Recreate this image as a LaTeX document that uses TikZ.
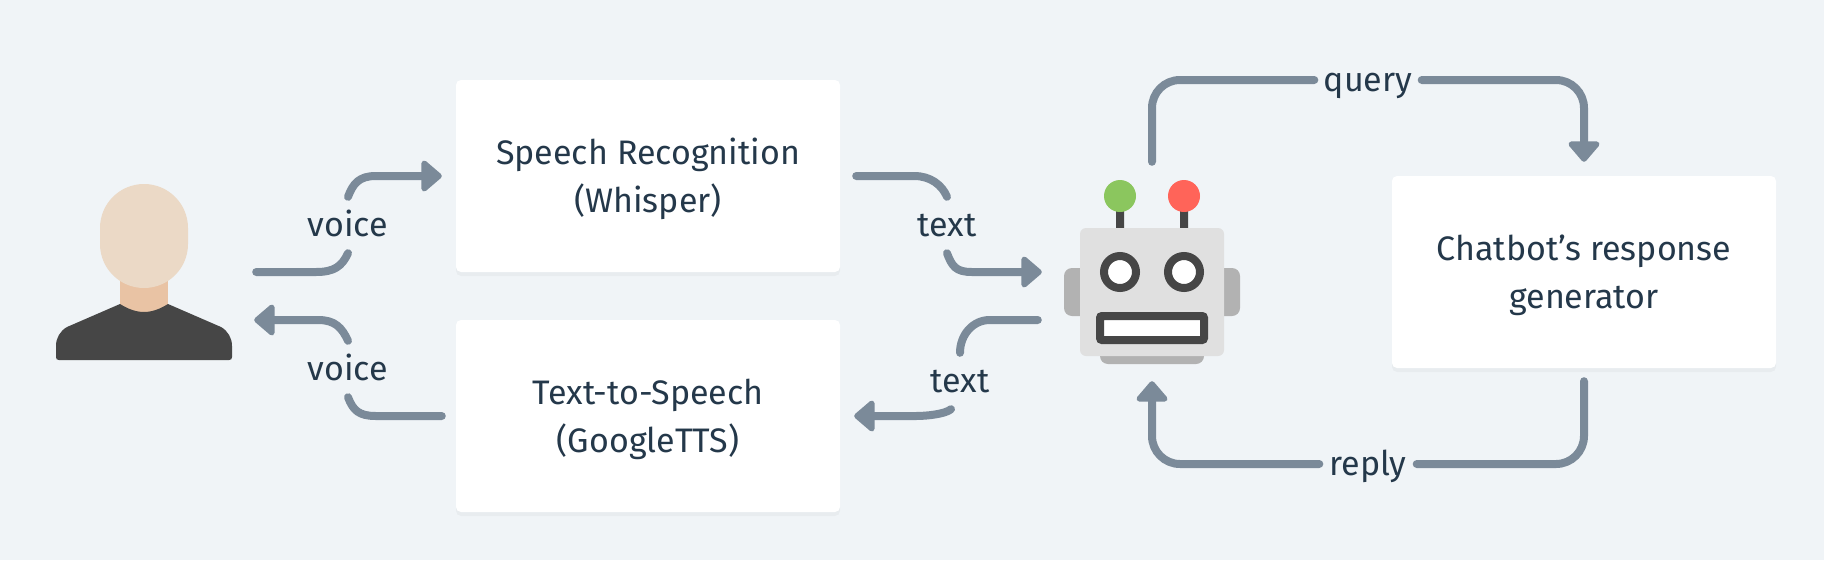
\documentclass[tikz,border=0pt]{standalone}
\usepackage{fontspec}
\usepackage{xcolor}
\setmainfont{Fira Sans}
\definecolor{pagebg}{RGB}{240, 244, 247}
\definecolor{flowgrey}{RGB}{123, 138, 153}
\definecolor{inkblue}{RGB}{36, 56, 74}
\definecolor{darkgrey}{RGB}{70, 70, 70}
\definecolor{midgrey}{RGB}{178, 178, 178}
\definecolor{facegrey}{RGB}{224, 224, 224}
\definecolor{skinlight}{RGB}{235, 217, 198}
\definecolor{skindark}{RGB}{233, 195, 164}
\definecolor{ledgreen}{RGB}{139, 198, 94}
\definecolor{ledred}{RGB}{255, 100, 89}
\usetikzlibrary{arrows.meta, shadows}
\newcommand{\cardstrut}{\rule[-10pt]{0pt}{44pt}}

\begin{document}
\begin{tikzpicture}[
        x=1pt, y=-1pt,
        card/.style={rectangle, fill=white, minimum width=384pt, minimum height=192pt,
                    inner sep=0pt, align=center, rounded corners=5pt, text=inkblue,
                    font=\fontsize{34}{48}\selectfont,
                    general shadow={fill=black, opacity=0.03, shadow yshift=-4pt}},
        icon/.style={rectangle, minimum width=176pt, minimum height=176pt, inner sep=0pt},
        tag/.style={inner sep=0pt, text=inkblue, text height=39pt, text depth=17pt,
                    font=\fontsize{34}{38}\selectfont},
        flow/.style={line width=8pt, flowgrey, line cap=round, line join=round},
        tip/.style={flow, -{Triangle[length=22pt, width=36pt, round]}}
    ]
        \fill[pagebg] (0,0) rectangle (1824,560);
        \useasboundingbox (0,0) rectangle (1824,560);

        \node[card] (speech) at (648,176) {\cardstrut Speech Recognition\\(Whisper)\cardstrut};
        \node[card] (tts) at (648,416) {\cardstrut Text-to-Speech\\(GoogleTTS)\cardstrut};
        \node[card] (generator) at (1584,272) {\cardstrut Chatbot’s response\\generator\cardstrut};
        \node[icon] (user) at (144,272) {};
        \node[icon] (robot) at (1152,272) {};

        % person
        \fill[skindark] (120,270) rectangle (168,314);
        \fill[skinlight, rounded corners=44pt] (100,184) rectangle (188,288);
        \fill[darkgrey] (120,304) .. controls (128,309) and (136,312) .. (144,312)
            .. controls (152,312) and (160,309) .. (168,304) -- (221,327)
            .. controls (228,331) and (232,338) .. (232,346) -- (232,357)
            .. controls (232,359) and (231,360) .. (229,360) -- (59,360)
            .. controls (57,360) and (56,359) .. (56,357) -- (56,346)
            .. controls (56,338) and (60,331) .. (67,327) -- cycle;

        % robot
        \fill[darkgrey] (1116,205) rectangle (1124,230) (1180,205) rectangle (1188,230);
        \fill[ledgreen] (1120,196) circle (16);
        \fill[ledred] (1184,196) circle (16);
        \fill[midgrey, rounded corners=8pt] (1064,268) rectangle (1240,316);
        \fill[midgrey, rounded corners=8pt] (1100,340) rectangle (1204,364);
        \fill[facegrey, rounded corners=6pt] (1080,228) rectangle (1224,356);
        \foreach \eyex in {1120,1184} {
            \draw[darkgrey, line width=8pt, fill=white] (\eyex,272) circle (16);
        }
        \draw[darkgrey, line width=8pt, fill=white, rounded corners=2pt] (1100,316) rectangle (1204,340);

        % labels
        \node[tag] (voiceup) at (348,225) {voice};
        \node[tag] (voicedown) at (348,369) {voice};
        \node[tag] (textup) at (947,225) {text};
        \node[tag] (textdown) at (960,381) {text};
        \node[tag, minimum width=107pt] (query) at (1368,80) {query};
        \node[tag, minimum width=97pt] (reply) at (1368,464) {reply};

        \draw[flow] ([xshift=24pt]user.east) -- ++(60,0)
            .. controls +(18,0) and +(-6,13) .. (voiceup.south);
        \draw[tip] (voiceup.north) .. controls +(5,-13) and +(-17,0) .. ([xshift=-80pt]speech.west)
            -- ([xshift=-14pt]speech.west);
        \draw[flow] ([xshift=-14pt]tts.west) -- ([xshift=-80pt]tts.west)
            .. controls +(-17,0) and +(5,13) .. (voicedown.south);
        \draw[tip] (voicedown.north) .. controls +(-6,-13) and +(17,0) .. ([shift={(86,48)}]user.east)
            -- ([shift={(22,48)}]user.east);

        \draw[flow] ([xshift=16pt]speech.east) -- ([xshift=74pt]speech.east)
            .. controls +(16,0) and +(-5,-12) .. (textup.north);
        \draw[tip] (textup.south) .. controls +(5,13) and +(-16,0) .. ([xshift=-92pt]robot.west)
            -- ([xshift=-22pt]robot.west);
        \draw[flow] ([shift={(-26,48)}]robot.west) -- ([shift={(-74,48)}]robot.west)
            .. controls +(-17,0) and +(0,-18) .. (textdown.north);
        \draw[tip] ([xshift=-9pt]textdown.south) .. controls +(-6,5) and +(10,0) .. ([xshift=76pt]tts.east)
            -- ([xshift=14pt]tts.east);

        \draw[flow, rounded corners=28pt] ([yshift=22pt]robot.north) |- (query.west);
        \draw[tip, rounded corners=28pt] (query.east) -| ([yshift=14pt]generator.north);
        \draw[flow, rounded corners=28pt] ([yshift=-13pt]generator.south) |- (reply.east);
        \draw[tip, rounded corners=28pt] (reply.west) -| ([yshift=-21pt]robot.south);
    \end{tikzpicture}
\end{document}
